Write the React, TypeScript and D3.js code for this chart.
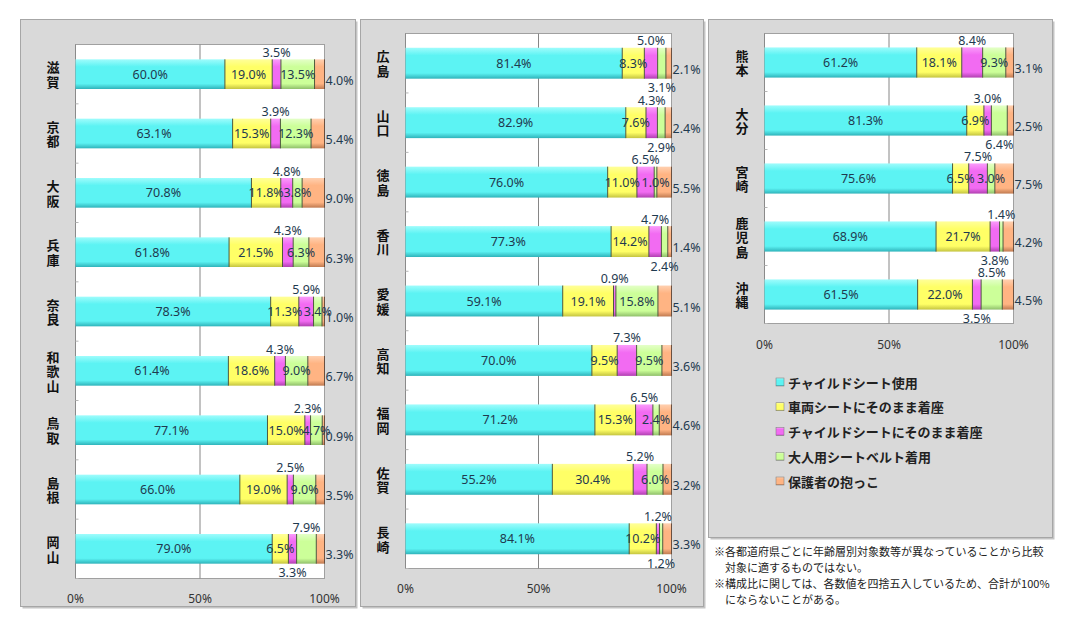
import * as d3 from 'd3';

const seriesNames = [
  'チャイルドシート使用',
  '車両シートにそのまま着座',
  'チャイルドシートにそのまま着座',
  '大人用シートベルト着用',
  '保護者の抱っこ',
];

const leftPrefectures = ['滋賀', '京都', '大阪', '兵庫', '奈良', '和歌山', '鳥取', '島根', '岡山'];
const middlePrefectures = ['広島', '山口', '徳島', '香川', '愛媛', '高知', '福岡', '佐賀', '長崎'];
const rightPrefectures = ['熊本', '大分', '宮崎', '鹿児島', '沖縄'];

// order: left, middle, right panels
const childSeatUse = [
  60.0, 63.1, 70.8, 61.8, 78.3, 61.4, 77.1, 66.0, 79.0,
  81.4, 82.9, 76.0, 77.3, 59.1, 70.0, 71.2, 55.2, 84.1,
  61.2, 81.3, 75.6, 68.9, 61.5,
];
const vehicleSeat = [
  19.0, 15.3, 11.8, 21.5, 11.3, 18.6, 15.0, 19.0, 6.5,
  8.3, 7.6, 11.0, 14.2, 19.1, 9.5, 15.3, 30.4, 10.2,
  18.1, 6.9, 6.5, 21.7, 22.0,
];
const childSeatUnbelted = [
  3.5, 3.9, 4.8, 4.3, 5.9, 4.3, 2.3, 2.5, 3.3,
  5.0, 4.3, 6.5, 4.7, 0.9, 7.3, 6.5, 5.2, 1.2,
  8.4, 3.0, 7.5, 3.8, 3.5,
];
const adultBelt = [
  13.5, 12.3, 3.8, 6.3, 3.4, 9.0, 4.7, 9.0, 7.9,
  3.1, 2.9, 1.0, 2.4, 15.8, 9.5, 2.4, 6.0, 1.2,
  9.3, 6.4, 3.0, 1.4, 8.5,
];
const heldByGuardian = [
  4.0, 5.4, 9.0, 6.3, 1.0, 6.7, 0.9, 3.5, 3.3,
  2.1, 2.4, 5.5, 1.4, 5.1, 3.6, 4.6, 3.2, 3.3,
  3.1, 2.5, 7.5, 4.2, 4.5,
];

const xTicks = [0, 50, 100];

const notes = [
  '※各都道府県ごとに年齢層別対象数等が異なっていることから比較',
  '　対象に適するものではない。',
  '※構成比に関しては、各数値を四捨五入しているため、合計が100%',
  '　にならないことがある。',
];

const seriesValues = [childSeatUse, vehicleSeat, childSeatUnbelted, adultBelt, heldByGuardian];

const colors = [
  { light: '#9ffcfc', base: '#5cf3f3', dark: '#2fb3ba' },
  { light: '#ffff99', base: '#ffff66', dark: '#c4c440' },
  { light: '#fa9cfa', base: '#f26bf2', dark: '#b040b0' },
  { light: '#e4ffc8', base: '#ccff99', dark: '#8fbf6a' },
  { light: '#ffd0b0', base: '#ffb483', dark: '#c07a50' },
];

// label placement per series (data labels were hand-placed in the original)
const defaultSpots = ['in', 'in', 'above', 'in', 'right'];
const spotOverrides: Record<string, Record<number, string>> = {
  岡山: { 2: 'below', 3: 'above' },
  広島: { 3: 'below' },
  山口: { 3: 'below' },
  香川: { 3: 'below' },
  長崎: { 3: 'below' },
  大分: { 3: 'below' },
  鹿児島: { 2: 'below', 3: 'above' },
  沖縄: { 2: 'below', 3: 'above' },
};

const panels = [
  {
    cats: leftPrefectures,
    offset: 0,
    box: { x: 20.5, y: 19.5, w: 335, h: 587 },
    plot: { x: 75.5, y: 44.5, w: 249, h: 534 },
    catX: 53,
    tickY: 598,
    padIn: 0.5,
  },
  {
    cats: middlePrefectures,
    offset: leftPrefectures.length,
    box: { x: 360.5, y: 19.5, w: 343, h: 587 },
    plot: { x: 405.5, y: 33.5, w: 266, h: 535 },
    catX: 383,
    tickY: 588,
    padIn: 0.48,
  },
  {
    cats: rightPrefectures,
    offset: leftPrefectures.length + middlePrefectures.length,
    box: { x: 708.5, y: 19.5, w: 344, h: 518 },
    plot: { x: 764.5, y: 33.5, w: 249, h: 290 },
    catX: 742,
    tickY: 344,
    padIn: 0.48,
  },
];

const numFont = "'Noto Sans', 'DejaVu Sans', sans-serif";
const jpFont = "'Noto Sans CJK JP', sans-serif";
const labelColor = '#1f3a4f';

type Panel = (typeof panels)[number];

function ChartPanel({ panel }: { panel: Panel }) {
  const { cats, offset, box, plot } = panel;
  const x = d3.scaleLinear().domain([0, 100]).range([plot.x, plot.x + plot.w]);
  const y = d3
    .scaleBand<string>()
    .domain(cats)
    .range([plot.y, plot.y + plot.h])
    .paddingInner(panel.padIn)
    .paddingOuter(panel.padIn / 2);
  const bw = y.bandwidth();
  const step = y.step();

  return (
    <g>
      <rect x={box.x + 2} y={box.y + 2} width={box.w} height={box.h} fill="#c4c4c4" />
      <rect x={box.x} y={box.y} width={box.w} height={box.h} fill="#d9d9d9" stroke="#a6a6a6" />
      <rect x={plot.x} y={plot.y} width={plot.w} height={plot.h} fill="#ffffff" stroke="#a0a0a0" />
      {xTicks
        .filter((t) => t > 0 && t < 100)
        .map((t) => (
          <line key={t} x1={x(t)} x2={x(t)} y1={plot.y} y2={plot.y + plot.h} stroke="#868686" />
        ))}
      <line x1={plot.x} x2={plot.x} y1={plot.y} y2={plot.y + plot.h} stroke="#8a8a8a" />
      {d3.range(1, cats.length + 1).map((i) => (
        <line
          key={i}
          x1={plot.x}
          x2={plot.x + 3}
          y1={plot.y + step * i}
          y2={plot.y + step * i}
          stroke="#b5b5b5"
        />
      ))}
      {cats.map((cat, ci) => {
        const idx = offset + ci;
        const vals = seriesValues.map((s) => s[idx]);
        const total = d3.sum(vals);
        const top = y(cat) ?? 0;
        const cy = top + bw / 2;
        let cum = 0;
        const segs = vals.map((v, si) => {
          const x0 = x((cum / total) * 100);
          cum += v;
          const x1 = x((cum / total) * 100);
          return { v, si, x0, x1 };
        });
        const chars = Array.from(cat);
        return (
          <g key={cat}>
            {segs.map((s) => (
              <rect
                key={s.si}
                x={s.x0}
                y={top}
                width={Math.max(0, s.x1 - s.x0)}
                height={bw}
                fill={`url(#grad${s.si})`}
              />
            ))}
            {segs.slice(1).map((s) => (
              <line
                key={s.si}
                x1={s.x0}
                x2={s.x0}
                y1={top}
                y2={top + bw}
                stroke="#4d5a3c"
                strokeWidth={1}
              />
            ))}
            <line x1={x(100)} x2={x(100)} y1={top} y2={top + bw} stroke="#6a5040" strokeWidth={1} />
            {segs.map((s) => {
              const spot = spotOverrides[cat]?.[s.si] ?? defaultSpots[s.si];
              const mid = (s.x0 + s.x1) / 2;
              let lx = mid;
              let ly = cy;
              let anchor: 'middle' | 'start' = 'middle';
              if (spot === 'above') ly = top - 7;
              else if (spot === 'below') ly = top + bw + 9;
              else if (spot === 'right') {
                lx = plot.x + plot.w + 1;
                ly = cy + 6;
                anchor = 'start';
              }
              return (
                <text
                  key={s.si}
                  x={lx}
                  y={ly}
                  textAnchor={anchor}
                  dominantBaseline="central"
                  fontFamily={numFont}
                  fontSize={12.5}
                  fill={labelColor}
                >
                  {s.v.toFixed(1)}%
                </text>
              );
            })}
            {chars.map((ch, k) => (
              <text
                key={k}
                x={panel.catX}
                y={cy + (k - (chars.length - 1) / 2) * 14.5}
                textAnchor="middle"
                dominantBaseline="central"
                fontFamily={jpFont}
                fontWeight={700}
                fontSize={13}
                fill="#111"
              >
                {ch}
              </text>
            ))}
          </g>
        );
      })}
      {xTicks.map((t) => (
        <text
          key={t}
          x={x(t)}
          y={panel.tickY}
          textAnchor="middle"
          dominantBaseline="central"
          fontFamily={numFont}
          fontSize={12}
          fill="#333"
        >
          {t}%
        </text>
      ))}
    </g>
  );
}

function Legend() {
  const ly = d3.scalePoint<string>().domain(seriesNames).range([382, 481]);
  return (
    <g>
      {seriesNames.map((name, i) => (
        <g key={name}>
          <rect x={776} y={(ly(name) ?? 0) - 4} width={8} height={8} fill={`url(#grad${i})`} stroke="#777" strokeWidth={0.5} />
          <text
            x={788}
            y={ly(name)}
            dominantBaseline="central"
            fontFamily={jpFont}
            fontWeight={600}
            fontSize={13}
            fill="#222"
          >
            {name}
          </text>
        </g>
      ))}
    </g>
  );
}

export default function App() {
  return (
    <svg
      width={1080}
      height={632}
      viewBox="0 0 1080 632"
      style={{ position: 'fixed', left: 0, top: 0, background: '#fff' }}
    >
      <defs>
        {colors.map((c, i) => (
          <linearGradient key={i} id={`grad${i}`} x1="0" x2="0" y1="0" y2="1">
            <stop offset="0%" stopColor={c.light} />
            <stop offset="25%" stopColor={c.base} />
            <stop offset="82%" stopColor={c.base} />
            <stop offset="100%" stopColor={c.dark} />
          </linearGradient>
        ))}
      </defs>
      {panels.map((p, i) => (
        <ChartPanel key={i} panel={p} />
      ))}
      <Legend />
      {notes.map((n, i) => (
        <text
          key={i}
          x={714}
          y={551 + i * 16}
          dominantBaseline="central"
          fontFamily={jpFont}
          fontSize={11}
          fill="#222"
        >
          {n}
        </text>
      ))}
    </svg>
  );
}
